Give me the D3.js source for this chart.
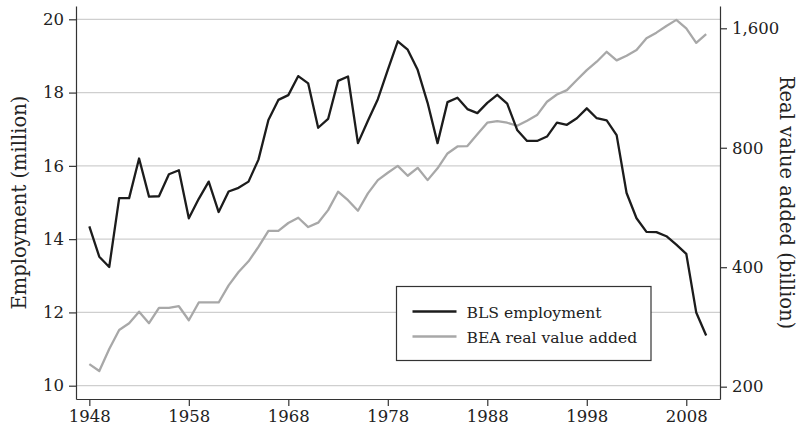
<!DOCTYPE html>
<html>
<head>
<meta charset="utf-8">
<script src="https://cdn.jsdelivr.net/npm/d3@7"></script>
<style>
    body { margin: 0; background: #fff; }
    svg { display: block; }
    .axis text { font-family: "DejaVu Serif", serif; font-size: 16.5px; fill: #222; }
    .axis path, .axis line { stroke: #333; stroke-width: 1.2; }
    .map-grid line { stroke: #cfcfcf; stroke-width: 1.2; }
</style>
</head>
<body>
<div id="chart"></div>
<script>
// Years shown on the x axis
const years = d3.range(1948, 2011);

// BLS employment (million), left axis
const employment = [
    14.35, 13.52, 13.24, 15.12, 15.12, 16.20, 15.16, 15.17, 15.77, 15.88,
    14.57, 15.10, 15.57, 14.74, 15.30, 15.40, 15.57, 16.17, 17.25, 17.80,
    17.93, 18.45, 18.25, 17.04, 17.28, 18.32, 18.44, 16.62, 17.23, 17.82,
    18.62, 19.40, 19.17, 18.62, 17.72, 16.62, 17.74, 17.86, 17.55, 17.44,
    17.72, 17.94, 17.70, 16.98, 16.68, 16.68, 16.80, 17.18, 17.12, 17.30,
    17.57, 17.30, 17.24, 16.84, 15.26, 14.57, 14.20, 14.19, 14.08, 13.85,
    13.60, 12.00, 11.37
];

// BEA real value added (billion), right axis (log scale)
const valueAdded = [
    228, 219, 249, 278, 289, 309, 289, 316, 316, 319,
    294, 326, 326, 326, 360, 389, 414, 450, 494, 494,
    517, 533, 505, 518, 557, 620, 590, 555, 614, 663,
    692, 720, 680, 712, 663, 710, 774, 806, 808, 865,
    925, 934, 925, 909, 936, 967, 1045, 1090, 1118, 1185,
    1255, 1318, 1396, 1328, 1365, 1410, 1510, 1560, 1622, 1680,
    1600, 1471, 1546
];

// Tick labels
const yearTicks = [1948, 1958, 1968, 1978, 1988, 1998, 2008];
const employmentTicks = [10, 12, 14, 16, 18, 20];
const valueTicks = [200, 400, 800, 1600];

const seriesNames = ["BLS employment", "BEA real value added"];

const width = 797;
const height = 427;
const plot_left = 76;
const plot_right = 720;
const plot_top = 6;
const plot_bottom = 399;
const font = "DejaVu Serif, serif";

const svg = d3.select("#chart")
              .append("svg")
              .attr("width", width)
              .attr("height", height)
              .attr("viewBox", `0 0 ${width} ${height}`);

const xScale = d3.scaleLinear()
                 .domain([1946.66, 2011.39])
                 .range([plot_left, plot_right]);

const yLeft = d3.scaleLinear()
                .domain([9.637, 20.363])
                .range([plot_bottom, plot_top]);

const yRight = d3.scaleLog()
                 .base(2)
                 .domain([186.2, 1821])
                 .range([plot_bottom, plot_top]);

// Gridlines at the employment ticks
const gridlines = svg.append("g").attr("class", "map-grid");
gridlines.selectAll("line")
         .data(employmentTicks)
         .enter()
         .append("line")
         .attr("x1", plot_left)
         .attr("x2", plot_right)
         .attr("y1", d => yLeft(d))
         .attr("y2", d => yLeft(d));

// Axes
svg.append("g")
   .attr("class", "axis")
   .attr("transform", `translate(${plot_left},0)`)
   .call(d3.axisLeft(yLeft).tickValues(employmentTicks).tickSize(7).tickSizeOuter(0).tickPadding(5));

svg.append("g")
   .attr("class", "axis")
   .attr("transform", `translate(${plot_right},0)`)
   .call(d3.axisRight(yRight).tickValues(valueTicks).tickSize(7).tickSizeOuter(0).tickPadding(5)
           .tickFormat(d3.format(",")));

svg.append("g")
   .attr("class", "axis")
   .attr("transform", `translate(0,${plot_bottom})`)
   .call(d3.axisBottom(xScale).tickValues(yearTicks).tickSize(7).tickSizeOuter(0).tickPadding(4)
           .tickFormat(d3.format("d")));

// Axis titles
svg.append("text")
   .attr("transform", `translate(25.5,${(plot_top + plot_bottom) / 2}) rotate(-90)`)
   .attr("text-anchor", "middle")
   .style("font-family", font)
   .style("font-size", "19.5px")
   .style("fill", "#222")
   .text("Employment (million)");

svg.append("text")
   .attr("transform", `translate(780,${(plot_top + plot_bottom) / 2}) rotate(90)`)
   .attr("text-anchor", "middle")
   .style("font-family", font)
   .style("font-size", "19.5px")
   .style("fill", "#222")
   .text("Real value added (billion)");

// Lines
const grayLine = d3.line()
                   .x((d, i) => xScale(years[i]))
                   .y(d => yRight(d));

const blackLine = d3.line()
                    .x((d, i) => xScale(years[i]))
                    .y(d => yLeft(d));

svg.append("path")
   .datum(valueAdded)
   .attr("d", grayLine)
   .attr("fill", "none")
   .attr("stroke", "#a8a8a8")
   .attr("stroke-width", 2.3)
   .attr("stroke-linejoin", "round");

svg.append("path")
   .datum(employment)
   .attr("d", blackLine)
   .attr("fill", "none")
   .attr("stroke", "#1c1c1c")
   .attr("stroke-width", 2.3)
   .attr("stroke-linejoin", "round");

// Legend
const legend = svg.append("g").attr("transform", "translate(396.5,286.5)");
legend.append("rect")
      .attr("width", 254.5)
      .attr("height", 74)
      .attr("fill", "#fff")
      .attr("stroke", "#333")
      .attr("stroke-width", 1.2);

const legendColors = ["#1c1c1c", "#a8a8a8"];
const rows = legend.selectAll("g.row")
                   .data(seriesNames)
                   .enter()
                   .append("g")
                   .attr("class", "row")
                   .attr("transform", (d, i) => `translate(0,${25 + i * 25})`);

rows.append("line")
    .attr("x1", 16)
    .attr("x2", 60)
    .attr("stroke", (d, i) => legendColors[i])
    .attr("stroke-width", 2.3);

rows.append("text")
    .attr("x", 70)
    .attr("y", 6.5)
    .style("font-family", font)
    .style("font-size", "15.6px")
    .style("fill", "#222")
    .text(d => d);
</script>
</body>
</html>
